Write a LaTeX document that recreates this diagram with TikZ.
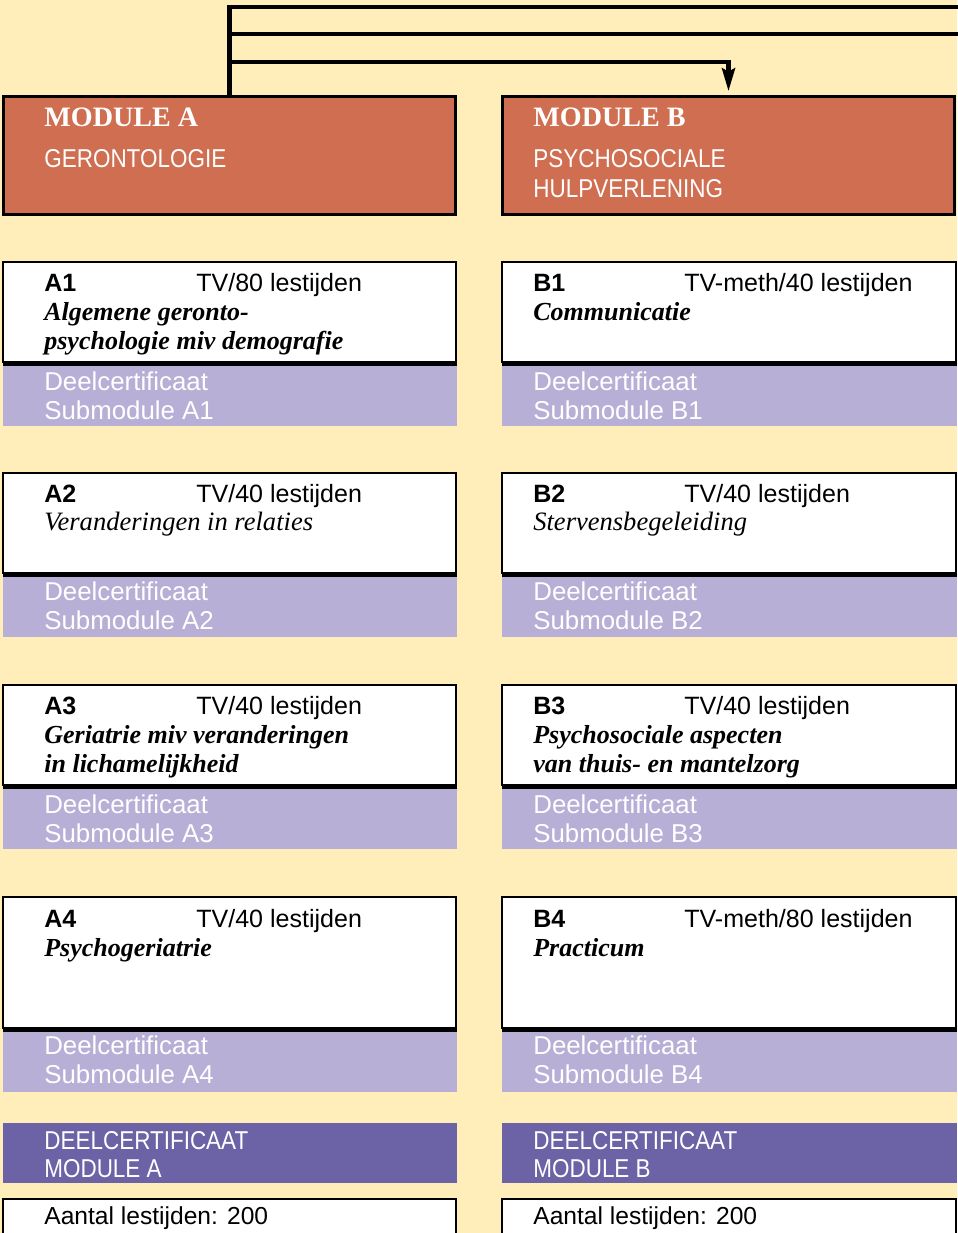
\documentclass[tikz,border=0pt]{standalone}
\usepackage{fontspec}
\setmainfont{Liberation Serif}
\setsansfont{Liberation Sans}
\newfontfamily\condfont[FakeStretch=0.87]{Liberation Sans}
\usetikzlibrary{arrows.meta}

\definecolor{cream}{RGB}{255,238,186}
\definecolor{modorange}{RGB}{207,110,80}
\definecolor{lavender}{RGB}{183,175,213}
\definecolor{certpurple}{RGB}{107,99,166}

\tikzset{
	conn/.style = {line width=2.3pt},
	modbox/.style = {draw, line width=1.7pt, fill=modorange, inner sep=0pt,
		minimum width=9.06cm, minimum height=2.38cm},
	subbox/.style = {draw, line width=0.8pt, fill=white},
	blackbar/.style = {fill=black},
	certbar/.style = {fill=lavender},
	modcert/.style = {fill=certpurple},
	lbl/.style = {anchor=base west, inner sep=0pt},
	modtitle/.style = {lbl, text=white, font=\rmfamily\bfseries\fontsize{16}{18}\selectfont},
	modname/.style = {lbl, text=white, font=\condfont\fontsize{14.7}{17}\selectfont},
	code/.style = {lbl, font=\sffamily\bfseries\fontsize{14.25}{16}\selectfont},
	hours/.style = {lbl, font=\sffamily\fontsize{14.25}{16}\selectfont},
	topic/.style = {lbl, font=\rmfamily\bfseries\itshape\fontsize{14.8}{16}\selectfont},
	topiclight/.style = {lbl, font=\rmfamily\itshape\fontsize{15.1}{16}\selectfont},
	certtxt/.style = {lbl, text=white, font=\sffamily\fontsize{14.7}{16}\selectfont},
	modcerttxt/.style = {lbl, text=white, font=\condfont\fontsize{14.7}{16}\selectfont},
	total/.style = {lbl, font=\sffamily\fontsize{14}{16}\selectfont},
}

\begin{document}
\begin{tikzpicture}[x=0.02cm, y=-0.02cm]
	\useasboundingbox[fill=cream] (0,0) rectangle (957,1233);

	% modules
	\node[modbox] (modA) at (229.5,155.5) {};
	\node[modbox] (modB) at (728.5,155.5) {};
	\node[modtitle] (modAtitle) at (44,127) {MODULE A};
	\node[modname] (modAname) at (44,168) {GERONTOLOGIE};
	\node[modtitle] (modBtitle) at (533,127) {MODULE B};
	\node[modname] (modBname) at (533,168) {PSYCHOSOCIALE};
	\node[modname] (modBname2) at (533,197) {HULPVERLENING};

	% connectors
	\coordinate (out1) at (962,7);
	\coordinate (out2) at (962,34);
	\coordinate (turn) at (0,62);
	\draw[conn] (modA.north) -- (modA.north |- out1) -- (out1);
	\draw[conn] (modA.north |- out2) -- (out2);
	\draw[conn,-{Stealth[length=13pt,width=7.5pt,inset=2pt]},shorten >=2pt]
		(modA.north |- turn) -| (modB.north);

	% A1
	\draw[subbox] (3,262) rectangle (456,362);
	\fill[blackbar] (3,362) rectangle (457,366);
	\fill[certbar] (3,366) rectangle (457,426);
	\node[code] (a1code) at (44,291) {A1};
	\node[hours] (a1hours) at (196,291) {TV/80 lestijden};
	\node[topic] (a1topic) at (44,320) {Algemene geronto-};
	\node[topic] (a1topic2) at (44,349) {psychologie miv demografie};
	\node[certtxt] (a1cert) at (44,390) {Deelcertificaat};
	\node[certtxt] (a1sub) at (44,419) {Submodule A1};

	% A2
	\draw[subbox] (3,473) rectangle (456,573);
	\fill[blackbar] (3,573) rectangle (457,577);
	\fill[certbar] (3,577) rectangle (457,637);
	\node[code] (a2code) at (44,502) {A2};
	\node[hours] (a2hours) at (196,502) {TV/40 lestijden};
	\node[topiclight] (a2topic) at (44,530) {Veranderingen in relaties};
	\node[certtxt] (a2cert) at (44,600) {Deelcertificaat};
	\node[certtxt] (a2sub) at (44,629) {Submodule A2};

	% A3
	\draw[subbox] (3,685) rectangle (456,785);
	\fill[blackbar] (3,785) rectangle (457,789);
	\fill[certbar] (3,789) rectangle (457,849);
	\node[code] (a3code) at (44,714) {A3};
	\node[hours] (a3hours) at (196,714) {TV/40 lestijden};
	\node[topic] (a3topic) at (44,743) {Geriatrie miv veranderingen};
	\node[topic] (a3topic2) at (44,772) {in lichamelijkheid};
	\node[certtxt] (a3cert) at (44,813) {Deelcertificaat};
	\node[certtxt] (a3sub) at (44,842) {Submodule A3};

	% A4
	\draw[subbox] (3,897) rectangle (456,1028);
	\fill[blackbar] (3,1028) rectangle (457,1032);
	\fill[certbar] (3,1032) rectangle (457,1092);
	\node[code] (a4code) at (44,927) {A4};
	\node[hours] (a4hours) at (196,927) {TV/40 lestijden};
	\node[topic] (a4topic) at (44,956) {Psychogeriatrie};
	\node[certtxt] (a4cert) at (44,1054) {Deelcertificaat};
	\node[certtxt] (a4sub) at (44,1083) {Submodule A4};

	% B1
	\draw[subbox] (502,262) rectangle (956,362);
	\fill[blackbar] (502,362) rectangle (957,366);
	\fill[certbar] (502,366) rectangle (957,426);
	\node[code] (b1code) at (533,291) {B1};
	\node[hours] (b1hours) at (684,291) {TV-meth/40 lestijden};
	\node[topic] (b1topic) at (533,320) {Communicatie};
	\node[certtxt] (b1cert) at (533,390) {Deelcertificaat};
	\node[certtxt] (b1sub) at (533,419) {Submodule B1};

	% B2
	\draw[subbox] (502,473) rectangle (956,573);
	\fill[blackbar] (502,573) rectangle (957,577);
	\fill[certbar] (502,577) rectangle (957,637);
	\node[code] (b2code) at (533,502) {B2};
	\node[hours] (b2hours) at (684,502) {TV/40 lestijden};
	\node[topiclight] (b2topic) at (533,530) {Stervensbegeleiding};
	\node[certtxt] (b2cert) at (533,600) {Deelcertificaat};
	\node[certtxt] (b2sub) at (533,629) {Submodule B2};

	% B3
	\draw[subbox] (502,685) rectangle (956,785);
	\fill[blackbar] (502,785) rectangle (957,789);
	\fill[certbar] (502,789) rectangle (957,849);
	\node[code] (b3code) at (533,714) {B3};
	\node[hours] (b3hours) at (684,714) {TV/40 lestijden};
	\node[topic] (b3topic) at (533,743) {Psychosociale aspecten};
	\node[topic] (b3topic2) at (533,772) {van thuis- en mantelzorg};
	\node[certtxt] (b3cert) at (533,813) {Deelcertificaat};
	\node[certtxt] (b3sub) at (533,842) {Submodule B3};

	% B4
	\draw[subbox] (502,897) rectangle (956,1028);
	\fill[blackbar] (502,1028) rectangle (957,1032);
	\fill[certbar] (502,1032) rectangle (957,1092);
	\node[code] (b4code) at (533,927) {B4};
	\node[hours] (b4hours) at (684,927) {TV-meth/80 lestijden};
	\node[topic] (b4topic) at (533,956) {Practicum};
	\node[certtxt] (b4cert) at (533,1054) {Deelcertificaat};
	\node[certtxt] (b4sub) at (533,1083) {Submodule B4};

	% module certificates
	\fill[modcert] (3,1123) rectangle (457,1183);
	\fill[modcert] (502,1123) rectangle (957,1183);
	\node[modcerttxt] (acert) at (44,1149) {DEELCERTIFICAAT};
	\node[modcerttxt] (acert2) at (44,1177) {MODULE A};
	\node[modcerttxt] (bcert) at (533,1149) {DEELCERTIFICAAT};
	\node[modcerttxt] (bcert2) at (533,1177) {MODULE B};

	% totals
	\draw[subbox] (3,1199) rectangle (456,1245);
	\draw[subbox] (502,1199) rectangle (956,1245);
	\node[total] (atotal) at (44,1224) {Aantal lestijden: 200};
	\node[total] (btotal) at (533,1224) {Aantal lestijden: 200};

\end{tikzpicture}
\end{document}
